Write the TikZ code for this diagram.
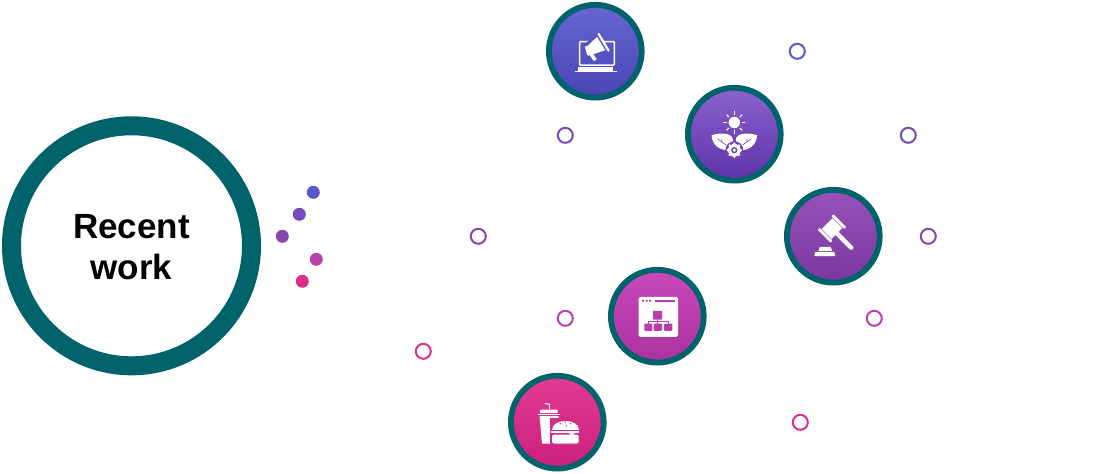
\documentclass[tikz,border=0pt]{standalone}
\usepackage{fontspec}
\setmainfont{Liberation Sans}
\definecolor{ringteal}{HTML}{00626B}
\definecolor{dotblue}{HTML}{5858CC}
\definecolor{dotindigo}{HTML}{7549C0}
\definecolor{dotviolet}{HTML}{8845AB}
\definecolor{dotorchid}{HTML}{BC3FB0}
\definecolor{dotpink}{HTML}{DC2F88}
\definecolor{promotop}{HTML}{6666D2}
\definecolor{promolow}{HTML}{4A44B4}
\definecolor{leavestop}{HTML}{8C62CE}
\definecolor{leaveslow}{HTML}{5C32A8}
\definecolor{gaveltop}{HTML}{9652B8}
\definecolor{gavellow}{HTML}{7A389E}
\definecolor{sitetop}{HTML}{CA48BA}
\definecolor{sitelow}{HTML}{A8329E}
\definecolor{foodtop}{HTML}{E23A90}
\definecolor{foodlow}{HTML}{CA207E}
\definecolor{promomid}{HTML}{5854C4}
\definecolor{leavesmid}{HTML}{7248BA}
\definecolor{orchidmid}{HTML}{B83CAA}
\definecolor{pinkmid}{HTML}{D62C86}
\tikzset{
  bigring/.style={circle, draw=ringteal, line width=19pt, minimum size=240pt, inner sep=0pt},
  biglabel/.style={align=center, inner sep=0pt, font=\fontsize{35}{41}\selectfont\bfseries},
  badge/.style 2 args={circle, draw=ringteal, line width=5.8pt, minimum size=92.8pt, inner sep=0pt, top color=#1, bottom color=#2},
  filldot/.style={circle, fill=#1, minimum size=13pt, inner sep=0pt},
  hollowdot/.style={circle, draw=#1, line width=2pt, minimum size=15pt, inner sep=0pt},
}
\begin{document}
\begin{tikzpicture}[x=1pt, y=-1pt]
\useasboundingbox (0,0) rectangle (1106,474);
\node (recent) [bigring] at (131.5,245.8) {};
\node (recentlabel) [biglabel] at (131.5,247.3) {Recent\\work};

\node (dota) [filldot=dotblue] at (313.3,192.3) {};
\node (dotb) [filldot=dotindigo] at (299.3,214.3) {};
\node (dotc) [filldot=dotviolet] at (282.3,236.3) {};
\node (dotd) [filldot=dotorchid] at (316.3,259.3) {};
\node (dote) [filldot=dotpink] at (302.3,281.3) {};

\node (marka) [hollowdot=dotblue] at (797.3,51.3) {};
\node (markb) [hollowdot=dotindigo] at (565.3,135.3) {};
\node (markc) [hollowdot=dotindigo] at (908.3,135.3) {};
\node (markd) [hollowdot=dotviolet] at (478.3,236.3) {};
\node (marke) [hollowdot=dotviolet] at (928.3,236.3) {};
\node (markf) [hollowdot=dotorchid] at (565.3,318.3) {};
\node (markg) [hollowdot=dotorchid] at (874.3,318.3) {};
\node (markh) [hollowdot=dotpink] at (423.3,351.3) {};
\node (marki) [hollowdot=dotpink] at (800.3,422.3) {};

\node (promo) [badge={promotop}{promolow}] at (595.3,51.2) {};
\node (leaves) [badge={leavestop}{leaveslow}] at (734.3,134.2) {};
\node (gavel) [badge={gaveltop}{gavellow}] at (833.3,236.2) {};
\node (sitemap) [badge={sitetop}{sitelow}] at (657.3,316.2) {};
\node (food) [badge={foodtop}{foodlow}] at (557.3,422.2) {};

% laptop and megaphone
\begin{scope}[shift={(promo.center)}]
\draw[white, line width=1.5pt, rounded corners=1pt] (-15.7,14) -- (-15.7,-9.7) -- (19,-9.7) -- (19,14) -- cycle;
\fill[white] (-17,15.7) rectangle (18,19.3);
\draw[white, line width=0.5pt] (-20,19.6) -- (21.5,19.6);
\fill[promomid] (1,-17) -- (16,-2) -- (-5,6) -- (-12,-6) -- cycle;
\fill[white] (1.7,-14.3) -- (10,-1) -- (-5,4) -- (-7.7,-5.3) -- cycle;
\draw[white, line width=2.2pt, line cap=round] (3.3,-17.2) -- (13.3,-0.6);
\fill[white, rounded corners=1pt] (-10.5,-5) -- (-6,-5.5) -- (-4,4) -- (-8,4.5) -- cycle;
\draw[white, line width=3.5pt] (-4.5,2.5) -- (0,9);
\end{scope}

% sun, leaves and gear
\begin{scope}[shift={(leaves.center)}]
\fill[white] (0,-11.7) circle (5.7);
\foreach \ang in {0,45,...,315}
  \draw[white, line width=1pt] (0,-11.7) ++(\ang:7.7) -- ++(\ang:3.4);
\fill[white] (-22.8,1) .. controls (-15,-1.5) and (-3,-2) .. (-1.5,5) .. controls (-1,9) and (-3,14) .. (-6,16) .. controls (-15,16) and (-22,11) .. (-22.8,1) -- cycle;
\fill[white] (22.8,1) .. controls (15,-1.5) and (3,-2) .. (1.5,5) .. controls (1,9) and (3,14) .. (6,16) .. controls (15,16) and (22,11) .. (22.8,1) -- cycle;
\draw[leavesmid, line width=0.6pt] (-17,4.5) -- (-8,11) (-12.5,7.8) -- (-12.5,4.5);
\draw[leavesmid, line width=0.6pt] (17,4.5) -- (8,11) (12.5,7.8) -- (12.5,4.5);
\fill[leavesmid] (0,16) circle (9);
\fill[white] (0,16) circle (6.3);
\foreach \ang in {0,45,...,315}
  \fill[white] (0,16) ++(\ang:6.3) circle (1.5);
\fill[leavesmid] (0,16) circle (3.2);
\fill[white] (0,16) circle (1.8);
\end{scope}

% gavel
\begin{scope}[shift={(gavel.center)}]
\fill[white, rounded corners=0.5pt] (-19,20) -- (-18,15.7) -- (1,15.7) -- (2,20) -- cycle;
\fill[white] (-14.7,14.6) -- (-13.5,10.7) -- (-2.5,10.7) -- (-1.3,14.6) -- cycle;
\begin{scope}[shift={(-1.3,-7.7)}, rotate=-45]
\fill[white] (-7,-7.5) rectangle (7,7.5);
\fill[white, rounded corners=0.5pt] (-9,8.3) rectangle (9,11);
\fill[white, rounded corners=0.5pt] (-9,-11) rectangle (9,-8.3);
\draw[white, line width=4.5pt, line cap=round] (5,0) -- (27,0);
\end{scope}
\end{scope}

% window with tree
\begin{scope}[shift={(sitemap.center)}]
\fill[white, rounded corners=1.5pt] (-18.7,-19.3) rectangle (20.7,20.7);
\fill[orchidmid] (-15.3,-16.3) rectangle (-13.3,-14.7) (-11.8,-16.3) rectangle (-9.8,-14.7) (-8.3,-16.3) rectangle (-6.3,-14.7);
\fill[orchidmid] (-2,-16.3) rectangle (18,-14.7);
\fill[orchidmid, rounded corners=0.5pt] (-4.3,-5.3) rectangle (4.7,3.3);
\fill[orchidmid, rounded corners=1pt] (-13,7.3) rectangle (-4.9,14.7) (-3.7,7.3) rectangle (4.7,14.7) (6.7,7.3) rectangle (15,14.7);
\draw[orchidmid, line width=1.1pt] (0.2,3.3) -- (0.2,7.3) (-9,7.3) -- (-9,5.3) -- (11,5.3) -- (11,7.3);
\end{scope}

% drink and burger
\begin{scope}[shift={(food.center)}]
\draw[white, line width=1pt] (-12.7,-18.7) -- (-8,-18) -- (-7.7,-12.7);
\fill[white, rounded corners=1pt] (-17.5,-12.5) rectangle (0.5,-9);
\fill[white] (-19.3,-8.3) rectangle (2.3,-6.8);
\fill[white] (-17.7,-6) -- (1.3,-6) -- (0,21.3) -- (-15.3,21.3) -- cycle;
\fill[pinkmid] (-7,-4) rectangle (23,23);
\fill[white] (-5.3,7.5) .. controls (-5.3,-4.5) and (21.3,-4.5) .. (21.3,7.5) -- cycle;
\fill[white] (-6,8.6) rectangle (22,10.8);
\fill[white, rounded corners=2pt] (-5.3,12.3) -- (21.3,12.3) -- (21.3,21.3) -- (-5.3,21.3) -- cycle;
\fill[pinkmid] (3,1.5) circle (0.8) (8,0) circle (0.8) (13,1.5) circle (0.8) (9,3.7) circle (0.7);
\fill[white] (11,10) -- (18,10) -- (14.5,14) -- cycle;
\end{scope}
\end{tikzpicture}
\end{document}
